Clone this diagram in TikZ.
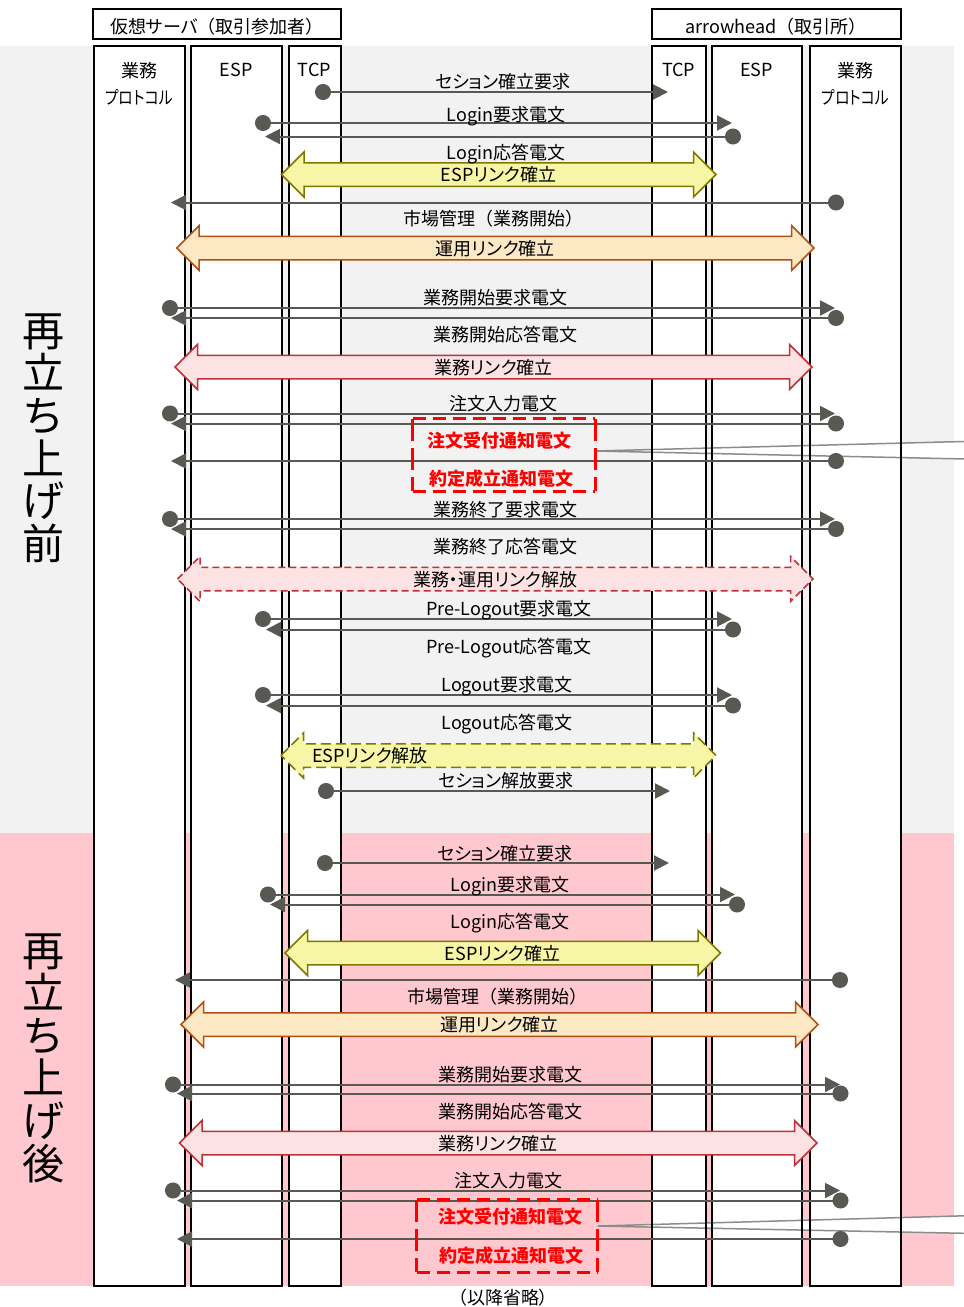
\documentclass[tikz,border=0pt]{standalone}
\usepackage{fontspec}
\usepackage{graphicx}
\setmainfont{Noto Sans CJK JP}[RawFeature=+palt]
\newfontfamily\fwfont{Noto Sans CJK JP}
\newcommand{\fwlp}{{\fwfont （}}
\newcommand{\fwrp}{{\fwfont ）}}
\usepackage{tikz}
\usetikzlibrary{arrows.meta, positioning}

\definecolor{bggray}{RGB}{242,242,242}
\definecolor{bgpink}{RGB}{255,199,206}
\definecolor{msggray}{RGB}{89,89,83}
\definecolor{espfill}{RGB}{246,246,166}
\definecolor{espline}{RGB}{127,120,0}
\definecolor{opsfill}{RGB}{253,232,196}
\definecolor{opsline}{RGB}{176,80,20}
\definecolor{bizfill}{RGB}{252,226,226}
\definecolor{bizline}{RGB}{192,48,56}
\definecolor{noticered}{RGB}{255,0,0}
\definecolor{callgray}{RGB}{140,140,140}

% #1 name, #2 style, #3 left tip, #4 right tip, #5 y
\newcommand{\linkarrow}[5]{%
  \draw[#2] (#3,#5) -- ++(22.5,-22.5) -- ++(0,10.75) -- ({#4-22.5},{#5-11.75})
    -- ++(0,-10.75) -- (#4,#5) -- ++(-22.5,22.5) -- ++(0,-10.75)
    -- ({#3+22.5},{#5+11.75}) -- ++(0,10.75) -- cycle;
  \coordinate (#1) at ({(#3+#4)/2},#5);}

\begin{document}
\begin{tikzpicture}[x=1pt, y=-1pt,
  lane/.style={draw, line width=2pt, fill=white, minimum height=1239.5pt, inner sep=0pt, outer sep=0pt},
  laneline/.style={draw, line width=2pt},
  head/.style={draw, line width=2pt, fill=white, minimum height=30.5pt, inner sep=0pt,
    text height=21.5pt, text depth=2.5pt, font=\fontsize{18}{20}\selectfont},
  lanetext/.style={font=\fontsize{18}{27}\selectfont, align=center, inner sep=0pt},
  msg/.style={draw=msggray, line width=2pt, {Circle[length=16pt]}-{Triangle[length=15pt,width=15pt]}},
  msgtext/.style={font=\fontsize{18}{20}\selectfont, inner sep=0pt, text height=15pt, text depth=3pt, yshift=-1pt},
  esplink/.style={draw=espline, fill=espfill, line width=1.5pt},
  opslink/.style={draw=opsline, fill=opsfill, line width=1.5pt},
  bizlink/.style={draw=bizline, fill=bizfill, line width=1.5pt},
  noticebox/.style={minimum height=72pt, inner sep=0pt},
  noticetext/.style={msgtext, text=noticered, font=\fontsize{18}{20}\selectfont\bfseries},
  noticeline/.style={draw=noticered, line width=3pt},
  callout/.style={draw=callgray, fill=white, line width=1.5pt},
  phase/.style={font=\fontsize{42}{42.6}\selectfont, align=center, inner sep=0pt}]

\useasboundingbox (0,0) rectangle (964,1307);
\fill[bggray] (0,46) rectangle (954,833);
\fill[bgpink] (0,833) rectangle (954,1285.5);

% lanes
\node[lane, minimum width=91pt] (bizL) at (139,665.75) {};
\node[lane, minimum width=90.5pt, right=6.5pt of bizL] (espL) {};
\node[lane, minimum width=52pt, right=7pt of espL] (tcpL) {};
\node[lane, minimum width=53.5pt] (tcpR) at (678.75,665.75) {};
\node[lane, minimum width=90.5pt, right=6pt of tcpR] (espR) {};
\node[lane, minimum width=90.5pt, right=8pt of espR] (bizR) {};

\node[head, minimum width=248pt] (srvHead) at (217,23.75) {仮想サーバ\fwlp 取引参加者\fwrp};
\node[head, minimum width=248.5pt] (exHead) at (776.25,23.75) {arrowhead\fwlp 取引所\fwrp};

\node[lanetext] (bizLt) at (139,83.5) {業務\\\scalebox{0.82}[1]{プロトコル}};
\node[lanetext] (espLt) at (236.25,70) {ESP};
\node[lanetext] (tcpLt) at (314.5,70) {TCP};
\node[lanetext] (tcpRt) at (678.75,70) {TCP};
\node[lanetext] (espRt) at (756.75,70) {ESP};
\node[lanetext] (bizRt) at (855.25,83.5) {業務\\\scalebox{0.82}[1]{プロトコル}};

% notices and callouts
\node[noticebox, minimum width=182pt] (notice1) at (504,455) {};
\node[noticebox, minimum width=180.6pt] (notice2) at (507.3,1236) {};
\coordinate (call1a) at (975,441.2);
\coordinate (call1b) at (975,459.2);
\coordinate (call2a) at (975,1215.5);
\coordinate (call2b) at (975,1233.5);
\draw[callout] ([yshift=4pt]notice1.east) -- (call1a) -- (call1b) -- cycle;
\draw[callout] ([yshift=10pt]notice2.east) -- (call2a) -- (call2b) -- cycle;

\foreach \l in {bizL,espL,tcpL,tcpR,espR,bizR}
  \draw[laneline] (\l.north west) rectangle (\l.south east);

% links
\linkarrow{a1}{esplink}{281.5}{716}{174.5}
\node[msgtext] (a1t) at (a1) {ESPリンク確立};
\linkarrow{a2}{opslink}{176.7}{814}{248}
\node[msgtext] (a2t) at (a2) {運用リンク確立};
\linkarrow{a3}{bizlink}{175}{812}{367}
\node[msgtext] (a3t) at (a3) {業務リンク確立};
\linkarrow{a4}{bizlink, dash pattern=on 7pt off 4pt}{177.5}{813}{579}
\node[msgtext] (a4t) at (a4) {業務・運用リンク解放};
\linkarrow{a5}{esplink, dash pattern=on 10pt off 5pt}{281}{716}{755.5}
\node[msgtext, anchor=west] (a5t) at (312,755.5) {ESPリンク解放};
\linkarrow{b1}{esplink}{285}{720.5}{953}
\node[msgtext] (b1t) at (b1) {ESPリンク確立};
\linkarrow{b2}{opslink}{181}{818}{1024.5}
\node[msgtext] (b2t) at (b2) {運用リンク確立};
\linkarrow{b3}{bizlink}{179.5}{817}{1143}
\node[msgtext] (b3t) at (b3) {業務リンク確立};

% messages
\foreach \n/\a/\b/\y in {
  m1/315/668/92, m2/255/732/123, m3/741/265/136.5, m4/844/171/202.5,
  m5/162/835/308, m6/844/171/318, m7/162/835/413.5, m8/844/171/423.5,
  m9/844/171/461, m10/162/835/519, m11/844/171/529, m12/255/732/619,
  m13/741/266/629.5, m14/255/732/695, m15/741/266/705.5, m16/318/670/791,
  n1/317/669/863, n2/260/735/894.5, n3/745/270/904.5, n4/848/175/980,
  n5/165/840/1084.5, n6/848.5/177/1093.5, n7/165/840/1190.5, n8/848.5/177/1200.5,
  n9/848.5/177/1239}
  {\coordinate (s\n) at (\a,\y); \coordinate (e\n) at (\b,\y); \draw[msg] (s\n) -- (e\n);}

\foreach \n/\x/\y/\t in {
  t1/503/81/セション確立要求, t2/506/114/Login要求電文, t3/506/152/Login応答電文,
  t4/493/218/市場管理\fwlp 業務開始\fwrp, t5/495/297/業務開始要求電文, t6/505/334/業務開始応答電文,
  t7/503/403/注文入力電文, t8/505/509/業務終了要求電文, t9/505/546/業務終了応答電文,
  t10/509/608/Pre-Logout要求電文, t11/509/646/Pre-Logout応答電文, t12/507/684/Logout要求電文,
  t13/507/722/Logout応答電文, t14/506/780/セション解放要求,
  u1/505/853/セション確立要求, u2/510/884/Login要求電文, u3/510/921/Login応答電文,
  u4/497/996/市場管理\fwlp 業務開始\fwrp, u5/510/1074/業務開始要求電文, u6/510/1111/業務開始応答電文,
  u7/508/1180/注文入力電文}
  \node[msgtext] (\n) at (\x,\y) {\t};

% notice frames
\node[noticetext] (notice1a) at (499,440) {注文受付通知電文};
\node[noticetext] (notice1b) at (501,478) {約定成立通知電文};
\node[noticetext] (notice2a) at (510,1216) {注文受付通知電文};
\node[noticetext] (notice2b) at (511,1255) {約定成立通知電文};
\foreach \b in {notice1,notice2} {
  \draw[noticeline, dash pattern=on 13pt off 7pt] (\b.north west) -- (\b.north east) (\b.south west) -- (\b.south east);
  \draw[noticeline, dash pattern=on 22pt off 7pt] (\b.north west) -- (\b.south west) (\b.north east) -- (\b.south east);
}

\node[phase] (before) at (43,438) {再\\立\\ち\\上\\げ\\前};
\node[phase] (after) at (43,1058) {再\\立\\ち\\上\\げ\\後};
\node[msgtext] (omitted) at (503,1297.5) {（以降省略）};
\end{tikzpicture}
\end{document}
